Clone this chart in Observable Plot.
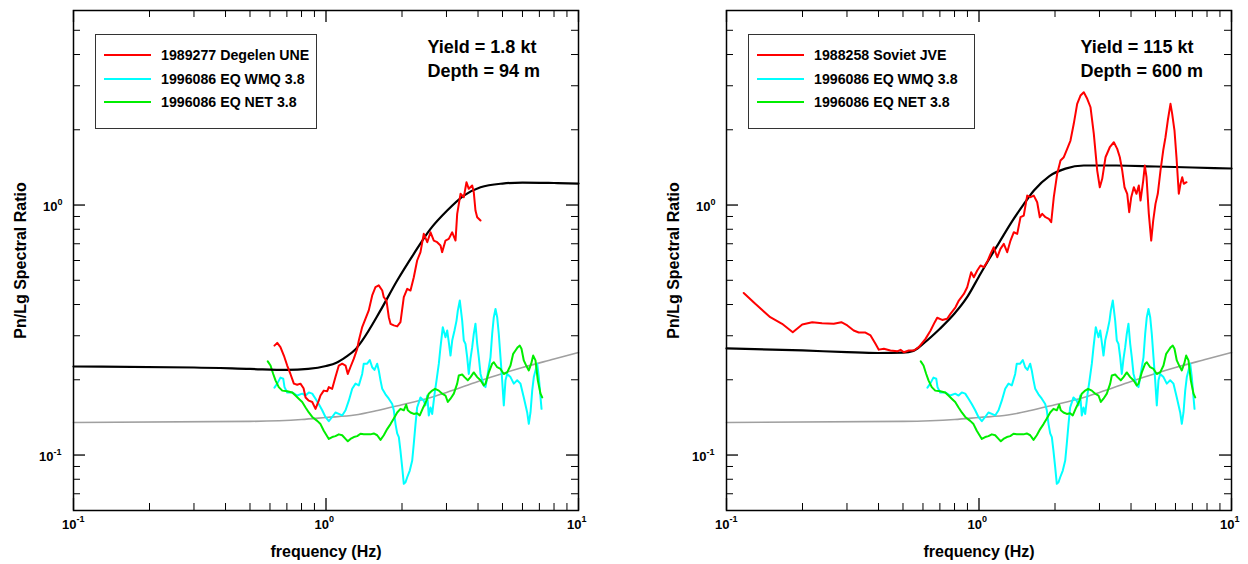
<!DOCTYPE html>
<html>
<head>
<meta charset="utf-8">
<script src="https://cdn.jsdelivr.net/npm/d3@7"></script>
<script src="https://cdn.jsdelivr.net/npm/@observablehq/plot@0.6"></script>
<style>
  html, body { margin: 0; padding: 0; background: #fff; }
  body { font-family: "Liberation Sans", Arial, Helvetica, sans-serif; }
  #wrap { position: relative; width: 1248px; height: 564px; display: flex; }
  .panel { position: relative; width: 624px; height: 564px; }
  .panel svg { display: block; }
  .legend { position: absolute; border: 1.6px solid #333; background: #fff; box-sizing: border-box; }
  .legend .row { position: absolute; left: 0; height: 18px; line-height: 18px; font-weight: bold; font-size: 14.2px; color: #000; white-space: nowrap; }
  .legend .sw { position: absolute; left: 8px; top: 8px; width: 47px; height: 2px; }
  .legend .lab { position: absolute; left: 65px; top: 0; }
</style>
</head>
<body>
<div id="wrap"></div>
<script>
// ---------------- data ----------------
const xMajor = [0.1, 1, 10];
const xMajorExp = ["-1", "0", "1"];
const xMinor = [0.2, 0.3, 0.4, 0.5, 0.6, 0.7, 0.8, 0.9, 2, 3, 4, 5, 6, 7, 8, 9];
const yMajor = [0.1, 1];
const yMajorExp = ["-1", "0"];
const yMinor = [0.07, 0.08, 0.09, 0.2, 0.3, 0.4, 0.5, 0.6, 0.7, 0.8, 0.9, 2, 3, 4, 5];

// Left panel: 1989277 Degelen UNE
const redLeftFreq = [0.625,0.641,0.660,0.681,0.702,0.723,0.746,0.769,0.792,0.815,0.830,0.855,0.882,0.909,0.936,0.951,0.980,1.011,1.026,1.058,1.090,1.124,1.159,1.195,1.220,1.250,1.289,1.329,1.349,1.391,1.434,1.477,1.524,1.570,1.618,1.670,1.694,1.736,1.773,1.801,1.856,1.914,1.972,2.033,2.097,2.161,2.227,2.296,2.367,2.439,2.518,2.594,2.673,2.756,2.841,2.884,2.973,3.064,3.161,3.258,3.308,3.410,3.514,3.601,3.677,3.793,3.848,3.908,3.970,4.092];
const redLeftRatio = [0.274,0.281,0.270,0.250,0.228,0.211,0.193,0.191,0.193,0.185,0.170,0.165,0.163,0.153,0.165,0.173,0.181,0.180,0.187,0.184,0.205,0.228,0.232,0.228,0.211,0.225,0.243,0.266,0.287,0.325,0.351,0.379,0.435,0.469,0.477,0.455,0.428,0.415,0.356,0.335,0.330,0.327,0.340,0.428,0.462,0.455,0.514,0.600,0.648,0.767,0.710,0.778,0.721,0.710,0.689,0.648,0.721,0.732,0.778,0.721,0.922,1.109,1.075,1.234,1.161,1.197,1.125,0.951,0.894,0.867];

// Left panel model (black)
const blackLeftFreq = [0.1,0.3,0.5,0.7,0.85,1.0,1.1,1.2,1.3,1.391,1.644,1.914,2.227,2.594,3.02,3.514,4.092,5.0,6.0,8.0,10];
const blackLeftRatio = [0.226,0.224,0.221,0.219,0.221,0.227,0.234,0.247,0.263,0.287,0.379,0.499,0.638,0.803,0.951,1.091,1.178,1.219,1.230,1.225,1.219];

// Right panel: 1988258 Soviet JVE
const redRightFreq = [0.117,0.130,0.149,0.166,0.183,0.1995,0.2185,0.239,0.266,0.285,0.301,0.319,0.334,0.355,0.372,0.389,0.401,0.420,0.446,0.4745,0.489,0.504,0.527,0.552,0.5775,0.614,0.643,0.668,0.683,0.715,0.748,0.771,0.807,0.832,0.871,0.898,0.931,0.954,0.984,1.014,1.045,1.084,1.111,1.144,1.181,1.216,1.254,1.293,1.333,1.374,1.417,1.460,1.504,1.552,1.600,1.648,1.700,1.741,1.780,1.834,1.890,1.932,1.978,2.040,2.103,2.167,2.235,2.303,2.373,2.448,2.523,2.600,2.683,2.765,2.849,2.939,3.009,3.076,3.170,3.296,3.420,3.527,3.612,3.692,3.770,3.864,3.935,4.008,4.104,4.205,4.295,4.362,4.471,4.536,4.607,4.705,4.808,4.897,5.000,5.106,5.233,5.364,5.477,5.593,5.733,5.822,5.946,6.055,6.184,6.281,6.380,6.473,6.634];
const redRightRatio = [0.445,0.4025,0.356,0.335,0.310,0.333,0.340,0.337,0.335,0.340,0.330,0.315,0.309,0.309,0.301,0.2785,0.264,0.266,0.262,0.260,0.2635,0.2577,0.262,0.262,0.270,0.2915,0.315,0.340,0.354,0.347,0.351,0.367,0.390,0.415,0.441,0.469,0.5385,0.514,0.547,0.573,0.564,0.600,0.638,0.678,0.618,0.668,0.6995,0.6475,0.721,0.7785,0.767,0.894,0.908,1.091,1.075,1.091,1.026,0.894,0.922,0.894,0.881,0.8535,1.075,1.333,1.507,1.553,1.678,1.811,2.113,2.540,2.742,2.826,2.660,2.461,1.927,1.374,1.178,1.273,1.553,1.703,1.783,1.678,1.553,1.374,1.178,1.109,0.936,1.075,1.178,1.109,1.197,1.042,1.253,1.439,1.292,0.922,0.721,0.867,1.011,1.109,1.374,1.652,1.867,2.178,2.540,2.316,1.986,1.553,1.109,1.216,1.292,1.216,1.234];

// Right panel model (black)
const blackRightFreq = [0.1,0.2,0.3,0.4,0.5,0.55,0.6,0.7,0.8,0.9,1.0,1.1,1.2,1.35,1.5,1.65,1.9,2.2,2.6,3.5,5,7,10];
const blackRightRatio = [0.267,0.262,0.258,0.256,0.257,0.261,0.2785,0.320,0.368,0.430,0.518,0.611,0.706,0.858,1.003,1.143,1.306,1.399,1.439,1.439,1.426,1.413,1.400];

// 1996086 EQ WMQ 3.8 (cyan) - same in both panels
const wmqFreq = [0.625,0.641,0.660,0.677,0.685,0.702,0.735,0.769,0.805,0.830,0.855,0.882,0.909,0.936,0.966,0.995,1.026,1.058,1.090,1.124,1.159,1.195,1.231,1.270,1.309,1.349,1.391,1.411,1.456,1.491,1.524,1.556,1.595,1.618,1.644,1.670,1.720,1.773,1.829,1.856,1.885,1.914,1.943,1.972,2.003,2.033,2.065,2.097,2.147,2.195,2.227,2.262,2.296,2.367,2.439,2.477,2.518,2.553,2.594,2.634,2.690,2.740,2.798,2.841,2.901,2.973,3.020,3.064,3.112,3.161,3.228,3.288,3.327,3.388,3.462,3.514,3.568,3.624,3.677,3.735,3.793,3.848,3.908,3.970,4.029,4.092,4.157,4.217,4.283,4.348,4.481,4.551,4.619,4.691,4.764,4.834,4.910,4.986,5.060,5.138,5.219,5.378,5.543,5.717,5.892,6.072,6.263,6.356,6.455,6.556,6.653,6.756,6.861,6.963,7.072,7.138];
const wmqRatio = [0.186,0.193,0.204,0.202,0.187,0.178,0.178,0.173,0.176,0.173,0.178,0.176,0.168,0.160,0.151,0.142,0.1365,0.142,0.148,0.146,0.144,0.151,0.165,0.184,0.193,0.190,0.211,0.232,0.232,0.240,0.2245,0.219,0.232,0.218,0.199,0.184,0.175,0.168,0.160,0.151,0.133,0.122,0.118,0.104,0.0894,0.0767,0.0778,0.0815,0.0867,0.0951,0.111,0.133,0.155,0.170,0.165,0.158,0.173,0.144,0.155,0.146,0.175,0.199,0.232,0.270,0.3245,0.296,0.315,0.283,0.250,0.287,0.315,0.345,0.378,0.415,0.345,0.287,0.2785,0.246,0.211,0.243,0.270,0.305,0.335,0.2785,0.246,0.211,0.199,0.190,0.187,0.205,0.246,0.305,0.356,0.384,0.356,0.305,0.246,0.199,0.158,0.199,0.211,0.205,0.193,0.199,0.193,0.170,0.148,0.1333,0.148,0.181,0.205,0.218,0.232,0.205,0.170,0.153];

// 1996086 EQ NET 3.8 (green) - same in both panels
const netFreq = [0.588,0.603,0.618,0.631,0.650,0.671,0.702,0.735,0.757,0.780,0.805,0.830,0.855,0.882,0.923,0.951,0.980,1.026,1.058,1.090,1.124,1.159,1.195,1.220,1.250,1.289,1.329,1.370,1.411,1.456,1.500,1.546,1.595,1.644,1.694,1.747,1.801,1.856,1.914,1.972,2.033,2.078,2.108,2.161,2.227,2.296,2.352,2.427,2.500,2.553,2.634,2.703,2.798,2.885,2.973,3.037,3.112,3.208,3.308,3.357,3.462,3.536,3.644,3.735,3.848,3.970,4.092,4.217,4.283,4.413,4.551,4.619,4.764,4.910,5.060,5.219,5.378,5.512,5.629,5.748,5.855,5.946,6.072,6.207,6.356,6.497,6.616,6.756,6.900,7.072,7.182];
const netRatio = [0.237,0.228,0.211,0.199,0.187,0.181,0.180,0.178,0.173,0.168,0.163,0.155,0.148,0.142,0.137,0.133,0.125,0.116,0.118,0.119,0.121,0.120,0.116,0.1135,0.116,0.118,0.119,0.1216,0.121,0.121,0.121,0.122,0.120,0.115,0.120,0.127,0.133,0.140,0.148,0.153,0.151,0.159,0.151,0.148,0.146,0.147,0.144,0.155,0.165,0.176,0.181,0.184,0.181,0.176,0.173,0.163,0.168,0.176,0.193,0.208,0.210,0.205,0.199,0.205,0.214,0.205,0.199,0.190,0.193,0.214,0.232,0.235,0.2245,0.221,0.211,0.214,0.228,0.254,0.262,0.270,0.274,0.266,0.239,0.228,0.218,0.232,0.250,0.239,0.199,0.176,0.170];

// Reference model (gray) - same in both panels
const grayFreq = [0.1,0.5,0.8,1.0,1.3,1.6,2.0,2.5,3.0,4.0,5.0,6.0,8.0,10];
const grayRatio = [0.1349,0.1363,0.1387,0.1413,0.1445,0.1507,0.159,0.168,0.178,0.197,0.212,0.224,0.242,0.257];

const legendLeft = ["1989277 Degelen UNE", "1996086 EQ WMQ 3.8", "1996086 EQ NET 3.8"];
const legendRight = ["1988258 Soviet JVE", "1996086 EQ WMQ 3.8", "1996086 EQ NET 3.8"];
const legendColors = ["#ff0000", "#00ffff", "#00ee00"];
const annLeft = ["Yield = 1.8 kt", "Depth = 94 m"];
const annRight = ["Yield = 115 kt", "Depth = 600 m"];

// ---------------- helpers ----------------
const FONT = "Liberation Sans, Arial, Helvetica, sans-serif";
const toRows = (f, v) => f.map((x, i) => ({f: x, v: v[i]}));

function panel({marginLeft, marginRight, red, black, legend, ann, pos, legendWidth}) {
  const W = 624, H = 564, mt = 10, mb = 54;
  const iw = W - marginLeft - marginRight, ih = H - mt - mb;
  const majorLen = 12, minorLen = 7;
  const marks = [
    // ticks (inward, all four sides)
    Plot.tickX(xMajor, {x: d => d, insetTop: ih - majorLen, stroke: "#000", strokeWidth: 1.3}),
    Plot.tickX(xMajor, {x: d => d, insetBottom: ih - majorLen, stroke: "#000", strokeWidth: 1.3}),
    Plot.tickX(xMinor, {x: d => d, insetTop: ih - minorLen, stroke: "#000", strokeWidth: 1}),
    Plot.tickX(xMinor, {x: d => d, insetBottom: ih - minorLen, stroke: "#000", strokeWidth: 1}),
    Plot.tickY(yMajor, {y: d => d, insetRight: iw - majorLen, stroke: "#000", strokeWidth: 1.3}),
    Plot.tickY(yMajor, {y: d => d, insetLeft: iw - majorLen, stroke: "#000", strokeWidth: 1.3}),
    Plot.tickY(yMinor, {y: d => d, insetRight: iw - minorLen, stroke: "#000", strokeWidth: 1}),
    Plot.tickY(yMinor, {y: d => d, insetLeft: iw - minorLen, stroke: "#000", strokeWidth: 1}),
    // curves
    Plot.line(toRows(grayFreq, grayRatio), {x: "f", y: "v", stroke: "#a0a0a0", strokeWidth: 1.6, curve: "monotone-x"}),
    Plot.line(toRows(wmqFreq, wmqRatio), {x: "f", y: "v", stroke: legendColors[1], strokeWidth: 2}),
    Plot.line(toRows(netFreq, netRatio), {x: "f", y: "v", stroke: legendColors[2], strokeWidth: 2}),
    Plot.line(toRows(black.f, black.v), {x: "f", y: "v", stroke: "#000", strokeWidth: 2.2, curve: "monotone-x"}),
    Plot.line(toRows(red.f, red.v), {x: "f", y: "v", stroke: legendColors[0], strokeWidth: 2}),
    Plot.frame({stroke: "#000", strokeWidth: 1.5}),
    // x tick labels
    Plot.text(xMajor, {x: d => d, frameAnchor: "bottom", text: () => "10", dy: 14, dx: 3, textAnchor: "end", lineAnchor: "middle", fontSize: 13, fontWeight: "bold"}),
    Plot.text(xMajor, {x: d => d, frameAnchor: "bottom", text: (d, i) => xMajorExp[i], dy: 9, dx: 3, textAnchor: "start", lineAnchor: "middle", fontSize: 9, fontWeight: "bold"}),
    // axis titles
    Plot.text(["frequency (Hz)"], {frameAnchor: "bottom", text: d => d, dy: 41, textAnchor: "middle", lineAnchor: "middle", fontSize: 16, fontWeight: "bold"}),
    Plot.text(["Pn/Lg Spectral Ratio"], {frameAnchor: "left", text: d => d, dx: -53, rotate: -90, textAnchor: "middle", lineAnchor: "middle", fontSize: 16, fontWeight: "bold"}),
    // annotation
    Plot.text([ann[0]], {frameAnchor: "top-left", text: d => d, dx: pos.ann, dy: 37, textAnchor: "start", lineAnchor: "middle", fontSize: 18, fontWeight: "bold"}),
    Plot.text([ann[1]], {frameAnchor: "top-left", text: d => d, dx: pos.ann, dy: 61, textAnchor: "start", lineAnchor: "middle", fontSize: 18, fontWeight: "bold"})
  ];
  // y tick labels (base + superscript exponent)
  yMajor.forEach((val, i) => {
    const e = yMajorExp[i];
    const off = e.length > 1 ? -20 : -16;
    marks.push(Plot.text([val], {y: d => d, frameAnchor: "left", text: () => "10", dx: off, dy: 2, textAnchor: "end", lineAnchor: "middle", fontSize: 13, fontWeight: "bold"}));
    marks.push(Plot.text([val], {y: d => d, frameAnchor: "left", text: () => e, dx: off, dy: -3, textAnchor: "start", lineAnchor: "middle", fontSize: 9, fontWeight: "bold"}));
  });

  const svg = Plot.plot({
    width: W, height: H,
    marginLeft, marginRight, marginTop: mt, marginBottom: mb,
    x: {type: "log", domain: [0.1, 10], axis: null},
    y: {type: "log", domain: [0.06, 6], axis: null},
    style: {fontFamily: FONT, background: "#fff", color: "#000", overflow: "visible"},
    marks
  });

  const div = document.createElement("div");
  div.className = "panel";
  div.appendChild(svg);

  // legend (HTML overlay)
  const lg = document.createElement("div");
  lg.className = "legend";
  lg.style.left = pos.box + "px";
  lg.style.top = "34px";
  lg.style.width = legendWidth + "px";
  lg.style.height = "95px";
  const rowCenters = [22, 46, 69];
  legend.forEach((lab, i) => {
    const row = document.createElement("div");
    row.className = "row";
    row.style.top = (rowCenters[i] - 9 - 1.6) + "px";
    row.style.width = (legendWidth - 4) + "px";
    const sw = document.createElement("span");
    sw.className = "sw";
    sw.style.background = legendColors[i];
    const t = document.createElement("span");
    t.className = "lab";
    t.textContent = lab;
    row.appendChild(sw);
    row.appendChild(t);
    lg.appendChild(row);
  });
  div.appendChild(lg);
  return div;
}

const wrap = document.getElementById("wrap");
wrap.appendChild(panel({
  marginLeft: 73, marginRight: 46,
  red: {f: redLeftFreq, v: redLeftRatio},
  black: {f: blackLeftFreq, v: blackLeftRatio},
  legend: legendLeft, ann: annLeft,
  pos: {box: 95, ann: 354},
  legendWidth: 222
}));
wrap.appendChild(panel({
  marginLeft: 102, marginRight: 17,
  red: {f: redRightFreq, v: redRightRatio},
  black: {f: blackRightFreq, v: blackRightRatio},
  legend: legendRight, ann: annRight,
  pos: {box: 124, ann: 354},
  legendWidth: 227
}));
</script>
</body>
</html>
